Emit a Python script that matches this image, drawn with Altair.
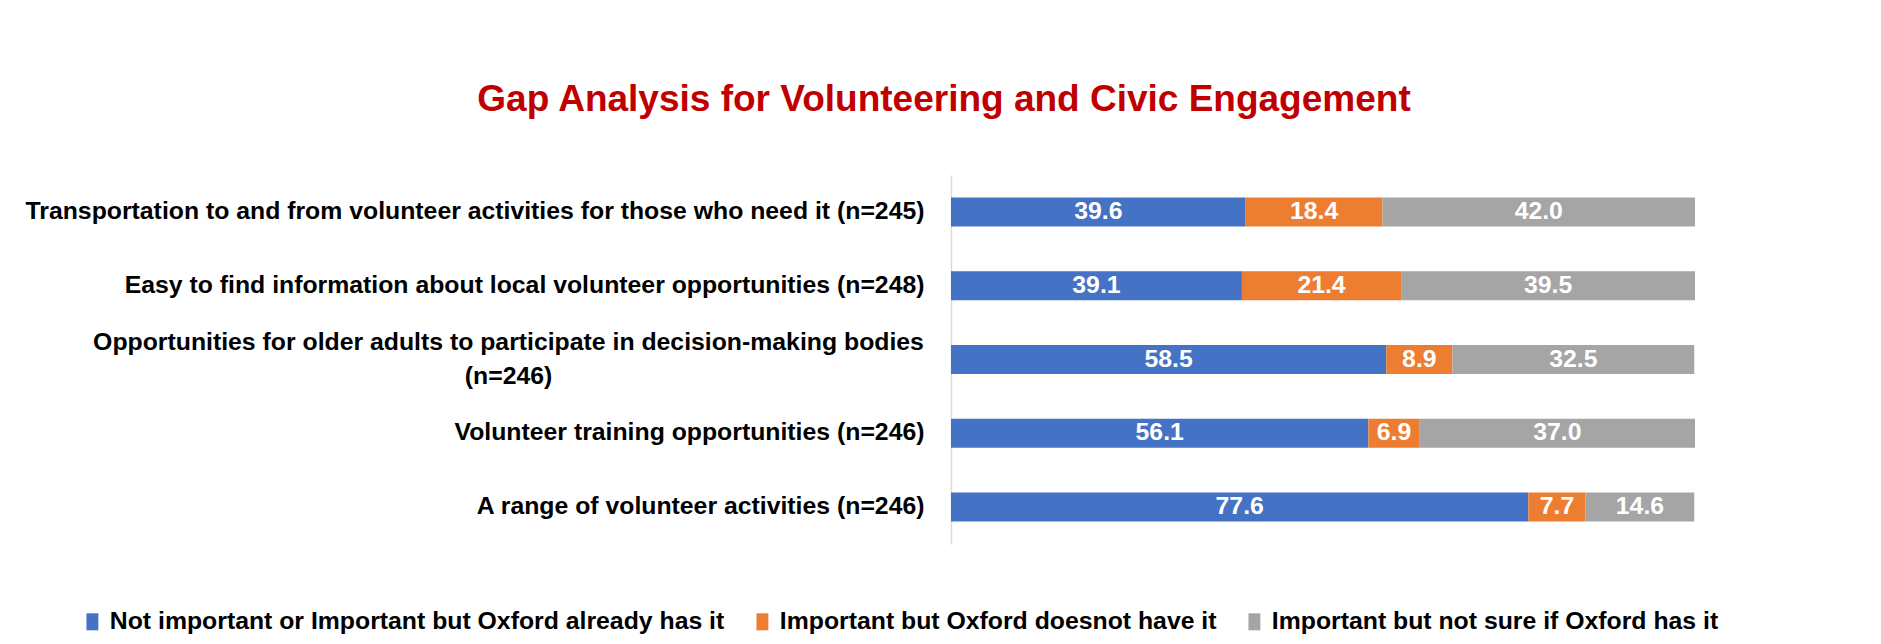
import altair as alt
import pandas as pd

categories = [
    "Transportation to and from volunteer activities for those who need it (n=245)",
    "Easy to find information about local volunteer opportunities (n=248)",
    "Opportunities for older adults to participate in decision-making bodies (n=246)",
    "Volunteer training opportunities (n=246)",
    "A range of volunteer activities (n=246)",
]
series = [
    "Not important or Important but Oxford already has it",
    "Important but Oxford doesnot have it",
    "Important but not sure if Oxford has it",
]
colors = ["#4472C4", "#ED7D31", "#A5A5A5"]
not_important_or_has = [39.6, 39.1, 58.5, 56.1, 77.6]
important_not_have = [18.4, 21.4, 8.9, 6.9, 7.7]
important_not_sure = [42.0, 39.5, 32.5, 37.0, 14.6]

rows = []
for i, c in enumerate(categories):
    for j, (s, vals) in enumerate(zip(series, [not_important_or_has, important_not_have, important_not_sure])):
        rows.append({"category": c, "series": s, "order": j, "value": vals[i]})
df = pd.DataFrame(rows)

FONT = "Liberation Sans"
FS = 24.8
wrap_cat = categories[2]
line1 = "Opportunities for older adults to participate in decision-making bodies"
test = f"datum.value == '{wrap_cat}'"
label_expr = f"datum.label == '{wrap_cat}' ? ['{line1}', '(n=246)'] : datum.label"

base = alt.Chart(df).transform_stack(
    stack="value", groupby=["category"], as_=["x0", "x1"],
    sort=[alt.SortField("order", order="ascending")],
)

y_enc = alt.Y(
    "category:N", sort=categories, title=None,
    scale=alt.Scale(paddingInner=0.607, paddingOuter=0.3035),
    axis=alt.Axis(
        labelExpr=label_expr, labelFont=FONT, labelFontSize=FS, labelFontWeight="bold",
        labelColor="#000000", labelLimit=1200, ticks=False,
        labelAlign={"condition": {"test": test, "value": "center"}, "value": "right"},
        labelPadding={"condition": {"test": test, "value": 443}, "value": 27},
        labelOffset={"condition": {"test": test, "value": -17}, "value": 0},
        domainColor="#D9D9D9", domainWidth=1.5, labelLineHeight=34,
    ),
)

bars = base.mark_bar().encode(
    x=alt.X("x0:Q", scale=alt.Scale(domain=[0, 100]), axis=None, title=None),
    x2="x1:Q",
    y=y_enc,
    color=alt.Color(
        "series:N",
        scale=alt.Scale(domain=series, range=colors),
        legend=alt.Legend(
            title=None, orient="none", direction="horizontal",
            legendX=-871, legendY=434,
            symbolType="M-0.7,-1H0.7V1H-0.7Z", symbolSize=289, symbolStrokeWidth=0,
            labelFont=FONT, labelFontSize=FS, labelFontWeight="bold", labelColor="#000000",
            labelLimit=1000, labelOffset=5, columnPadding=25, padding=0,
        ),
    ),
)

texts = base.transform_calculate(mid="(datum.x0 + datum.x1) / 2").mark_text(
    color="white", font=FONT, fontSize=FS, fontWeight="bold", baseline="middle", align="center",
).encode(
    x=alt.X("mid:Q"),
    y=alt.Y("category:N", sort=categories),
    text=alt.Text("value:Q", format=".1f"),
)

chart = alt.layer(bars, texts).properties(
    width=744, height=369,
    autosize=alt.AutoSizeParams(type="none"),
    padding={"left": 943, "top": 167, "right": 178, "bottom": 92},
    title=alt.TitleParams(
        "Gap Analysis for Volunteering and Civic Engagement",
        font=FONT, fontSize=37, fontWeight="bold", color="#C00000",
        anchor="middle", frame="group", dx=-379, offset=56,
    ),
).configure(background="white", view=alt.ViewConfig(stroke=None))

chart.save("out.html", embed_options={"renderer": "svg", "actions": False})
